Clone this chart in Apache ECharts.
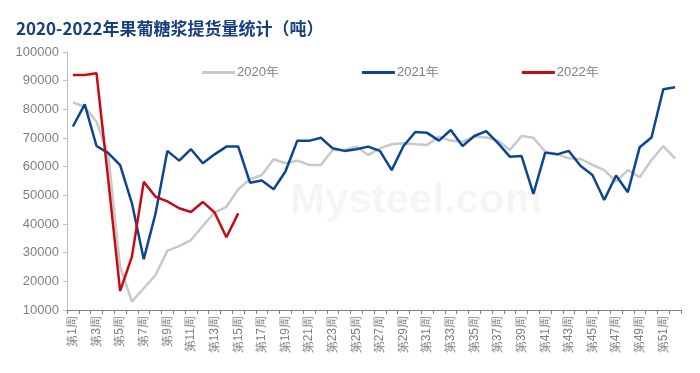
<!DOCTYPE html>
<html>
<head>
<meta charset="utf-8">
<script src="https://cdn.jsdelivr.net/npm/echarts@6/dist/echarts.min.js"></script>
<style>
html, body { margin: 0; padding: 0; background: #fff; }
#chart { width: 700px; height: 373px; }
</style>
</head>
<body>
<div id="chart"></div>
<script>
// weeks 1..52
var weeks = [];
for (var i = 1; i <= 52; i++) weeks.push('第' + i + '周');

var y2020 = [82400, 80900, 75700, 64000, 25100, 12900, 17600, 22200, 30700, 32300,
    34400, 39300, 44000, 46000, 52100, 55600, 57100, 62600, 61200, 62100,
    60600, 60600, 65800, 65800, 67000, 64100, 66400, 67800, 68200, 67800,
    67600, 70500, 69100, 68700, 70500, 70200, 69100, 65800, 70700, 70100,
    65200, 64400, 62900, 62700, 60600, 58800, 54800, 58800, 56300, 62300,
    67200, 62800];
var y2021 = [74000, 81700, 67200, 64700, 60500, 47200, 27700, 43700, 65500, 62100,
    66100, 61200, 64300, 67000, 67000, 54400, 55200, 52100, 58300, 69000,
    69000, 70100, 66400, 65500, 66100, 67000, 65500, 58800, 67200, 72100,
    71800, 69100, 72800, 67200, 70700, 72400, 68200, 63500, 63700, 50500,
    64900, 64300, 65500, 60200, 57100, 48400, 56900, 51100, 66800, 70200,
    87000, 87700];
var y2022 = [92000, 92000, 92600, 55200, 16700, 28600, 54700, 49500, 47900, 45500,
    44200, 47700, 44000, 35400, 43700];

var chart = echarts.init(document.getElementById('chart'));
var option = {
    backgroundColor: '#fff',
    animation: false,
    title: {
        text: '2020-2022年果葡糖浆提货量统计（吨）',
        left: 11,
        top: 15,
        textStyle: {
            fontFamily: 'Noto Sans CJK SC',
            fontSize: 17,
            fontWeight: 'bold',
            color: '#17407E'
        }
    },
    graphic: [{
        type: 'text',
        left: 290,
        top: 180,
        style: {
            text: 'Mysteel.com',
            font: 'bold 42px Arial',
            fill: 'rgba(0,0,0,0.04)'
        }
    }],
    legend: {
        left: 197,
        top: 61,
        itemWidth: 33,
        itemHeight: 3,
        itemGap: 83,
        icon: 'rect',
        textStyle: { color: '#7f7f7f', fontSize: 13, padding: [0, 0, 0, -3] },
        data: ['2020年', '2021年', '2022年']
    },
    grid: { left: 67, right: 19, top: 52, bottom: 63 },
    xAxis: {
        type: 'category',
        data: weeks,
        boundaryGap: true,
        axisLine: { lineStyle: { color: '#808080' } },
        axisTick: { show: true, interval: 0, length: 4, lineStyle: { color: '#808080' } },
        axisLabel: {
            interval: 1,
            rotate: 90,
            color: '#7f7f7f',
            fontSize: 12,
            margin: 6
        }
    },
    yAxis: {
        type: 'value',
        min: 10000,
        max: 100000,
        interval: 10000,
        axisLine: { show: true, lineStyle: { color: '#bfbfbf' } },
        axisTick: { show: true, length: 4, lineStyle: { color: '#bfbfbf' } },
        splitLine: { show: false },
        axisLabel: {
            color: '#7f7f7f', fontSize: 13, margin: 8,
            formatter: function (v) { return String(v); }
        }
    },
    series: [
        {
            name: '2020年', type: 'line', data: y2020, symbol: 'none',
            lineStyle: { width: 2.5, color: '#c9c9c9' }, itemStyle: { color: '#c9c9c9' }
        },
        {
            name: '2021年', type: 'line', data: y2021, symbol: 'none',
            lineStyle: { width: 2.5, color: '#0C4592' }, itemStyle: { color: '#0C4592' }
        },
        {
            name: '2022年', type: 'line', data: y2022, symbol: 'none',
            lineStyle: { width: 2.5, color: '#C80A14' }, itemStyle: { color: '#C80A14' }
        }
    ]
};
chart.setOption(option);
</script>
</body>
</html>
